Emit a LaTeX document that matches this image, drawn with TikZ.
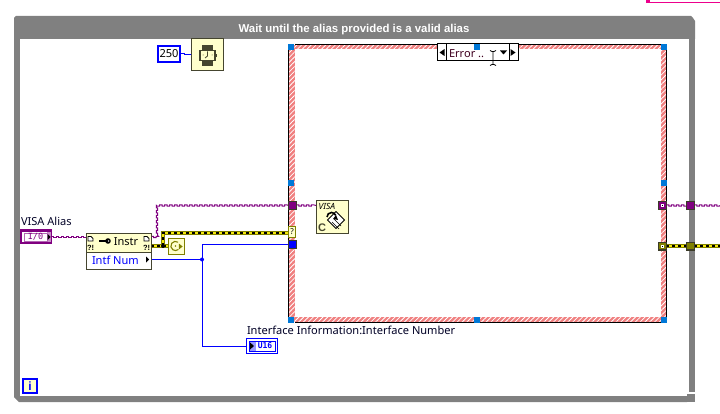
\documentclass[tikz,border=0pt]{standalone}
\usepackage{fontspec}
\setmainfont{Noto Sans}
\newfontfamily\monof{DejaVu Sans Mono}
\newfontfamily\heavyf{Liberation Sans}
\usetikzlibrary{patterns.meta,calc,decorations}
\pgfdeclarelayer{back}\pgfdeclarelayer{wire}
\pgfsetlayers{back,wire,main}
\pgfdeclaredecoration{sqwave}{up}{
  \state{up}[width=2.5pt,next state=down]{\pgfpathlineto{\pgfpoint{0pt}{0.6pt}}\pgfpathlineto{\pgfpoint{2.5pt}{0.6pt}}}
  \state{down}[width=2.5pt,next state=up]{\pgfpathlineto{\pgfpoint{0pt}{-0.6pt}}\pgfpathlineto{\pgfpoint{2.5pt}{-0.6pt}}}
  \state{final}{\pgfpathlineto{\pgfpointdecoratedpathlast}}
}
\definecolor{loopgray}{HTML}{808080}
\definecolor{hatchred}{HTML}{F08080}
\definecolor{vipurple}{HTML}{800080}
\definecolor{lvblue}{HTML}{0000FF}
\definecolor{lvyellow}{HTML}{FFFFCC}
\definecolor{edgeol}{HTML}{45452F}
\definecolor{errol}{HTML}{808000}
\definecolor{handle}{HTML}{0078D7}
\definecolor{seltxt}{HTML}{400020}
\tikzset{
  x=1pt,y=-1pt,
  lbl/.style={inner sep=0pt,outer sep=0pt,font=\fontsize{11.05}{13}\selectfont,text=#1},
  lbl/.default=black!85!blue,
  icon/.style={draw=edgeol,line width=1pt,fill=lvyellow,inner sep=0pt,outer sep=0pt},
  tunnel/.style={draw=edgeol!85!black,line width=1.4pt,inner sep=0pt,outer sep=0pt,minimum width=7.6pt,minimum height=7.6pt},
  grip/.style={fill=handle,draw=none,inner sep=0pt,outer sep=0pt,minimum width=6pt,minimum height=6pt},
  purplewire/.style={draw=vipurple,line width=1pt,decorate,decoration={sqwave}},
  bluewire/.style={draw=lvblue,line width=1pt},
  errwire/.style={draw=errol,line width=3.6pt,
    postaction={draw=yellow!95!black,line width=2.2pt},
    postaction={draw=black,line width=1.2pt,dash pattern=on 3pt off 3pt}},
  hatch/.style={draw=none,fill=hatchred,postaction={pattern={Lines[angle=45,distance=3.4pt,line width=.8pt]},pattern color=white}},
  lvdot/.style={circle,fill=#1,draw=none,minimum size=4pt,inner sep=0pt,outer sep=0pt},
}
\begin{document}
\begin{tikzpicture}
\useasboundingbox (0,0) rectangle (720,414);

\begin{pgfonlayer}{back}
  \fill[white] (0,0) rectangle (720,414);
  % magenta fragment
  \fill[magenta] (646,0) rectangle (650,3.4);
  \fill[magenta] (646,2) rectangle (720,3.4);
  % while loop frame
  \fill[loopgray] (14,39) -- (14,18) -- (16,16) -- (691,16) -- (693,18) -- (695,21) -- (695,39) -- cycle;
  \fill[loopgray] (14,39) rectangle (20,397);
  \fill[loopgray] (14,397) -- (19,402) -- (687,402) -- (687,396) -- (20,396) -- (20,397) -- cycle;
  \fill[loopgray] (689,39) rectangle (695,392);
  \fill[loopgray] (687,394) rectangle (695,402);
  % case structure
  \fill[hatch] (289,45) rectangle (295,322);
  \fill[hatch] (661,45) rectangle (666.5,322);
  \fill[hatch] (295,45) rectangle (661,49.5);
  \fill[hatch] (295,317) rectangle (661,322);
  \fill[black] (295,44) rectangle (661,45);
  \fill[black] (295,322) rectangle (661,323);
  \fill[black] (288,50) rectangle (289,317);
  \fill[black] (666,50) rectangle (667,317);
\end{pgfonlayer}

% resize handles
\foreach \n/\cx/\cy in {a/291/47,b/477/47,c/664/47,d/291/183,e/664/183,f/291/320,g/477/320,h/664/320}
  \node[grip] (grip\n) at (\cx,\cy) {};

% labels
\node[inner sep=0pt,outer sep=0pt,font=\heavyf\fontsize{11.4}{13}\selectfont\bfseries,text=white] (title) at (354,30) {Wait until the alias provided is a valid alias};
\node[lbl,anchor=west] (visalbl) at (21,221) {VISA Alias};
\node[lbl,anchor=west] (ifacelbl) at (247,330) {Interface Information:Interface Number};

% VISA resource control
\node[draw=vipurple,line width=2.6pt,fill=white,inner sep=0pt,outer sep=0pt,minimum width=30pt,minimum height=12.5pt] (ctrl) at (36,236.6) {};
\fill[vipurple!45] (47,232) rectangle (50.5,242);
\draw[vipurple!60,line width=.6pt] (24,233) rectangle (47,241);
\node[inner sep=0pt,font=\monof\fontsize{8.5}{9}\selectfont,text=vipurple] (ctrltext) at (35.5,237) {I/0};
\fill[black] (47.5,234) -- (50.5,237) -- (47.5,240) -- cycle;

% property node
\node[icon,minimum width=65pt,minimum height=19pt] (propTop) at (118.5,242.5) {};
\node[draw=edgeol,line width=1pt,fill=white,inner sep=0pt,outer sep=0pt,minimum width=65pt,minimum height=17pt] (propBot) at (118.5,260.5) {};
\node[lbl=black] (instr) at (126,242) {Instr};
\node[lbl=lvblue,anchor=west] (intf) at (92,260) {Intf Num};
\fill[black] (146,256.5) -- (149,259.5) -- (146,262.5) -- cycle;
% key glyph
\fill[black] (99,240) rectangle (106,242.4);
\fill[black] (108,241) circle (2.8pt);
\fill[white] (108.6,241) circle (.8pt);
% doc and status glyphs
\foreach \gx in {87,143}{
  \draw[black,line width=.9pt,fill=white] (\gx+1,236.5) -- (\gx+4,236.5) -- (\gx+6,238.5) -- (\gx+6,241) -- (\gx+1,241) -- cycle;
  \node[inner sep=0pt,font=\heavyf\fontsize{7.5}{8}\selectfont\bfseries] at (\gx+3.7,247.5) {?!};
}

% wait icon
\node[icon,minimum width=32pt,minimum height=32pt] (wait) at (207,55) {};
\fill[edgeol] (202,45) rectangle (213,66);
\fill[edgeol] (199,50) rectangle (216,61);
\fill[lvyellow] (201,51) rectangle (214,60);
\fill[edgeol] (215,54) rectangle (216.5,57);
\draw[edgeol,line width=.8pt] (207.5,51.5) -- (207.5,56) -- (205,58);
\fill[edgeol] (203,55) circle (.5pt) (212,55) circle (.5pt);
% 250 constant
\node[draw=lvblue,line width=2pt,fill=white,inner sep=0pt,outer sep=0pt,minimum width=22pt,minimum height=16pt,font=\fontsize{11.05}{13}\selectfont] (const) at (169,54) {250};

% loop condition
\node[draw=errol,line width=1pt,fill=lvyellow,inner sep=0pt,outer sep=0pt,minimum width=16pt,minimum height=16pt] (cond) at (176,246) {};
\draw[errol,line width=1.1pt] (178.1,242.2) arc (55:310:4.6pt);
\fill[errol] (178.8,243.5) -- (182.6,246.5) -- (178.8,249.5) -- cycle;
\fill[errol] (175.5,246) circle (.9pt);

% tunnels on the case structure
\node[tunnel,fill=vipurple] (tunP) at (292.5,205.5) {};
\node[draw=errol,line width=1.2pt,fill=lvyellow,inner sep=0pt,outer sep=0pt,minimum width=7pt,minimum height=11pt,font=\fontsize{8}{9}\selectfont] (tunQ) at (292,232) {?};
\node[tunnel,fill=lvblue] (tunB) at (292.5,244.5) {};
\node[tunnel,fill=vipurple] (tunPr) at (662.5,205.5) {};
\fill[white] (661,204) rectangle (664,207);
\fill[black] (662,205) rectangle (663,206);
\node[tunnel,fill=errol] (tunYr) at (662.5,246) {};
\fill[white] (661,244.5) rectangle (664,247.5);
\fill[black] (662,245.5) rectangle (663,246.5);
% tunnels on the loop
\node[tunnel,fill=vipurple] (loopP) at (690.5,205.5) {};
\node[tunnel,fill=errol] (loopY) at (690.5,246) {};
\coordinate (outP) at (720,205.5);
\coordinate (outY) at (720,246);

% VISA close icon
\node[icon,minimum width=32pt,minimum height=32pt] (close) at (332,217) {};
\node[inner sep=0pt,font=\fontsize{8.5}{9}\selectfont\itshape] (closevisa) at (327,206.5) {VISA};
\node[inner sep=0pt,font=\heavyf\fontsize{11}{12}\selectfont\bfseries,text=edgeol] (closec) at (322,227.5) {C};
\draw[black,line width=.8pt,fill=white,rotate around={45:(336,220)}] (330,214) rectangle (342,226);
\draw[black,line width=.7pt] (332,222) -- (339,229) (334,219) -- (341,226);
\draw[black,line width=1.6pt] (327,217) arc (180:20:4.5pt);
\fill[black] (336,215) -- (333,219) -- (338,220) -- cycle;

% case selector
\node[draw=black,line width=1pt,fill=white,inner sep=0pt,outer sep=0pt,minimum width=81pt,minimum height=17pt] (sel) at (477.5,52.5) {};
\node[lbl=seltxt,anchor=west] (seltext) at (449,53.5) {Error ..};
\draw[black,line width=1pt] (446,44) -- (446,61) (509,44) -- (509,61);
\fill[black] (444.5,49) -- (439.5,52.5) -- (444.5,56) -- cycle;
\fill[black] (510.5,49) -- (515.5,52.5) -- (510.5,56) -- cycle;
\fill[black] (500,50.5) -- (507,50.5) -- (503.5,54.5) -- cycle;
\node[grip] (gripsel) at (477,47) {};
% I-beam cursor
\draw[black,line width=.8pt] (490,50.5) -- (492,51.5) -- (494,51.5) -- (496,50.5)
  (493,51.5) -- (493,64.5) (490,65.5) -- (492,64.5) -- (494,64.5) -- (496,65.5);

% U16 indicator
\node[draw=lvblue,line width=1pt,fill=white,inner sep=0pt,outer sep=0pt,minimum width=31pt,minimum height=15pt] (u16) at (262,346) {};
\fill[lvblue!40] (249,341) rectangle (256,351);
\draw[lvblue,line width=.7pt] (249,341) rectangle (275,351);
\fill[black] (250,342.5) -- (254,346) -- (250,349.5) -- cycle;
\node[inner sep=0pt,font=\monof\fontsize{8}{9}\selectfont\bfseries,text=lvblue] (u16t) at (265,346) {U16};

% iteration terminal
\node[draw=lvblue,line width=2pt,fill=lvyellow,inner sep=0pt,outer sep=0pt,minimum width=14pt,minimum height=14pt,font=\heavyf\fontsize{12}{13}\selectfont\bfseries,text=lvblue] (iter) at (30,386) {i};

% wire anchor points
\coordinate (propP) at (151,237);
\coordinate (propE) at (151,246);
\coordinate (propI) at (151,259.5);
\coordinate (junE) at (163,246);
\coordinate (junB) at (202,259.5);

\begin{pgfonlayer}{wire}
  \draw[purplewire] (ctrl.east) -- (ctrl.east -| propTop.west);
  \draw[purplewire] (propP) -- (157,237) -- (157,205.5) -- (tunP.west);
  \draw[purplewire] (tunP.east) -- (close.west |- tunP.east);
  \draw[purplewire] (tunPr.east) -- (loopP.west);
  \draw[purplewire] (loopP.east) -- (outP);
  \draw[errwire] (propE) -- (junE) -- (cond.west);
  \draw[errwire] (junE) -- (163,233) -- (tunQ.west |- 0,233);
  \draw[errwire] (tunYr.east) -- (loopY.west);
  \draw[errwire] (loopY.east) -- (outY);
  \draw[bluewire] (propI) -- (junB);
  \draw[bluewire] (junB) -- (202,244.5) -- (tunB.west);
  \draw[bluewire] (junB) -- (202,346) -- (u16.west);
  \draw[bluewire] (const.east) -- ++(4,0) -- ++(0,1) -- (wait.west);
\end{pgfonlayer}
\node[lvdot=black] (junEdot) at (junE) {};
\node[lvdot=lvblue] (junBdot) at (junB) {};
\end{tikzpicture}
\end{document}
